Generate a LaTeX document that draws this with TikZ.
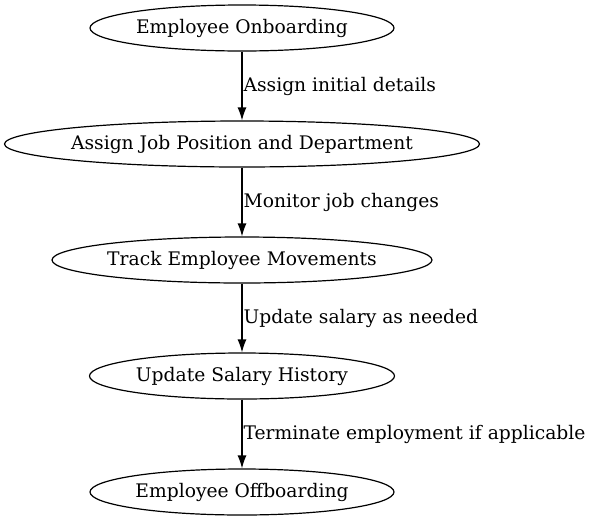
\documentclass[tikz,border=0pt]{standalone}
\usepackage{fontspec}
\setmainfont{DejaVu Serif}
\usetikzlibrary{shapes.geometric,arrows.meta}
\tikzset{
  stage/.style={draw, ellipse, inner xsep=-20pt, inner ysep=0pt, minimum height=46pt, line width=1.2pt, font=\fontsize{18.7}{22}\selectfont},
  flow/.style={line width=1.2pt, -{Latex[length=13pt,width=9pt]}},
  note/.style={anchor=west, inner sep=1pt, font=\fontsize{18.7}{22}\selectfont}
}
\begin{document}
\begin{tikzpicture}[x=1pt, y=-1pt]
\useasboundingbox (0,0) rectangle (592,523);
\node[stage, minimum width=304pt] (onboard) at (242,28) {Employee Onboarding};
\node[stage, minimum width=475pt] (assign) at (242,144) {Assign Job Position and Department};
\node[stage, minimum width=380pt] (track) at (242,260) {Track Employee Movements};
\node[stage, minimum width=305pt] (salary) at (242,376) {Update Salary History};
\node[stage, minimum width=304pt] (offboard) at (242,492) {Employee Offboarding};
% edges
\draw[flow] (onboard.south) -- (assign.north) node[note, midway]{Assign initial details};
\draw[flow] (assign.south) -- (track.north) node[note, midway]{Monitor job changes};
\draw[flow] (track.south) -- (salary.north) node[note, midway]{Update salary as needed};
\draw[flow] (salary.south) -- (offboard.north) node[note, midway]{Terminate employment if applicable};
\end{tikzpicture}
\end{document}
